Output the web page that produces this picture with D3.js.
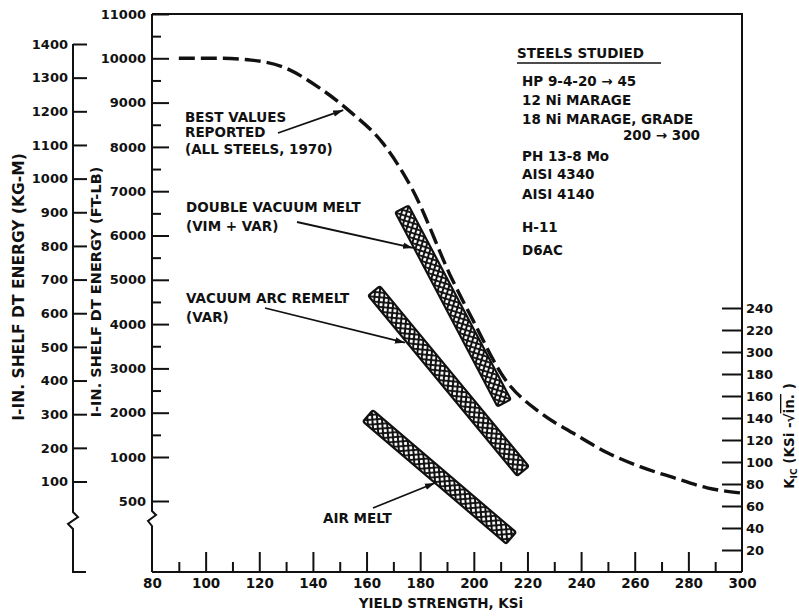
<!DOCTYPE html>
<html>
<head>
<meta charset="utf-8">
<script src="https://cdn.jsdelivr.net/npm/d3@7"></script>
<style>
  body { margin: 0; background: #fff; }
  svg { display: block; }
  text { font-family: "DejaVu Sans", sans-serif; font-weight: bold; fill: #111; }
</style>
</head>
<body>
<svg id="chart" width="799" height="616"></svg>
<script>
// ---- data -------------------------------------------------------------
const ksiTicks = [80, 100, 120, 140, 160, 180, 200, 220, 240, 260, 280, 300];
const ksiMinorTicks = [90, 110, 130, 150, 170, 190, 210, 230, 250, 270, 290];
const ftLbTicks = [500, 1000, 2000, 3000, 4000, 5000, 6000, 7000, 8000, 9000, 10000, 11000];
const ftLbMinorTicks = [1500, 2500, 3500, 4500, 5500, 6500, 7500, 8500, 9500, 10500];
const kgmTicks = [100, 200, 300, 400, 500, 600, 700, 800, 900, 1000, 1100, 1200, 1300, 1400];
const kicTicks = [20, 40, 60, 80, 100, 120, 140, 160, 180, 200, 220, 240];
const kicTickLabels = ["20", "40", "60", "80", "100", "120", "140", "160", "180", "300", "220", "240"];

// best values reported (all steels, 1970): yield strength (ksi) vs DT energy (ft-lb)
const bestKsi  = [90, 105, 117, 129, 142, 154, 166, 177, 192, 200, 211, 225, 237, 250, 262, 274, 287, 300];
const bestFtLb = [10000, 10000, 9960, 9800, 9350, 8790, 8090, 7050, 5000, 4050, 2810, 1990, 1540, 1090, 890, 770, 650, 590];

// melting practice bands: end points (ksi, ft-lb)
const bandNames     = ["DOUBLE VACUUM MELT", "VACUUM ARC REMELT", "AIR MELT"];
const bandStartKsi  = [173.2, 162.8, 160.5];
const bandStartFtLb = [6600, 4750, 1930];
const bandEndKsi    = [211.3, 218.3, 213.9];
const bandEndFtLb   = [2220, 840, 80];

// annotation arrow tips (ksi, ft-lb)
const noteTipKsi  = [151.3, 177.3, 174.3, 185.5];
const noteTipFtLb = [8830, 5720, 3580, 705];

const steelsStudied = ["HP 9-4-20 \u2192 45", "12 Ni MARAGE", "18 Ni MARAGE, GRADE", "200 \u2192 300",
                       "PH 13-8 Mo", "AISI 4340", "AISI 4140", "H-11", "D6AC"];

// ---- scales -----------------------------------------------------------
const svg = d3.select("#chart");
const x    = d3.scaleLinear([80, 300], [152, 742]);
const yFt  = d3.scaleLinear([500, 1000, 11000], [501, 457, 14]);
const yKgm = d3.scaleLinear([100, 1400], [481.5, 44]);
const yKic = d3.scaleLinear([0, 240], [572, 308]);
const frameBottom = 572, frameTop = 14, kgmX = 73;

const ink = "#111";

// ---- defs: arrowhead and crosshatch pattern ---------------------------
const defs = svg.append("defs");
defs.append("marker")
  .attr("id", "head").attr("viewBox", "0 0 10 8")
  .attr("refX", 10).attr("refY", 4)
  .attr("markerWidth", 10).attr("markerHeight", 8)
  .attr("markerUnits", "userSpaceOnUse")
  .attr("orient", "auto")
  .append("path").attr("d", "M0,0.8 L10,4 L0,7.2 Z").attr("fill", ink);

const cell = 4.8;
const hatch = defs.append("pattern")
  .attr("id", "hatch").attr("patternUnits", "userSpaceOnUse")
  .attr("width", cell).attr("height", cell)
  .attr("patternTransform", "rotate(45)");
hatch.append("rect").attr("width", cell).attr("height", cell).attr("fill", ink);
hatch.append("rect").attr("x", 0.9).attr("y", 0.9).attr("width", cell - 1.8).attr("height", cell - 1.8)
  .attr("rx", 0.7).attr("fill", "#fff");

// ---- axis lines with breaks ------------------------------------------
const axisStroke = g => g.attr("fill", "none").attr("stroke", ink).attr("stroke-width", 2);

// frame: top and right edge
svg.append("path").call(axisStroke)
  .attr("d", `M${x(80)},${frameTop} H${x(300)} V${frameBottom}`);
// yield strength axis
svg.append("path").call(axisStroke)
  .attr("d", `M${x(80)},${frameBottom} H${x(300)}`);
// ft-lb axis with break
svg.append("path").call(axisStroke)
  .attr("d", `M${x(80)},${frameTop} V511 L${x(80) + 4},515 L${x(80) - 4},521 L${x(80)},526 V${frameBottom}`);
// kg-m axis with break and foot
svg.append("path").call(axisStroke)
  .attr("d", `M${kgmX},${yKgm(1400)} V512 L${kgmX + 5},517 L${kgmX - 5},524 L${kgmX},529 V${frameBottom} H${kgmX + 13}`);

function styleAxis(g, size) {
  g.select(".domain").remove();
  g.selectAll(".tick line").attr("stroke", ink).attr("stroke-width", 2);
  g.selectAll(".tick text").attr("font-size", size).attr("fill", ink)
    .attr("font-family", "DejaVu Sans").attr("font-weight", "bold");
}

// ft-lb axis
svg.append("g").attr("transform", `translate(${x(80)},0)`)
  .call(d3.axisLeft(yFt).tickValues(ftLbTicks).tickSize(-17).tickPadding(6).tickFormat(d3.format("d")))
  .call(g => styleAxis(g, 13));
svg.append("g").attr("transform", `translate(${x(80)},0)`)
  .call(d3.axisLeft(yFt).tickValues(ftLbMinorTicks).tickSize(-9).tickFormat(""))
  .call(g => styleAxis(g, 13));

// kg-m axis
svg.append("g").attr("transform", `translate(${kgmX},0)`)
  .call(d3.axisLeft(yKgm).tickValues(kgmTicks).tickSize(-14).tickPadding(5).tickFormat(d3.format("d")))
  .call(g => styleAxis(g, 13));

// K_IC axis
svg.append("g").attr("transform", `translate(${x(300)},0)`)
  .call(d3.axisRight(yKic).tickValues(kicTicks).tickSize(-20).tickPadding(4)
        .tickFormat((d, i) => kicTickLabels[i]))
  .call(g => styleAxis(g, 13));

// yield strength axis
svg.append("g").attr("transform", `translate(0,${frameBottom})`)
  .call(d3.axisBottom(x).tickValues(ksiTicks).tickSize(-20).tickPadding(6).tickFormat(d3.format("d")))
  .call(g => styleAxis(g, 13.5))
  .call(g => g.selectAll(".tick").filter(d => d === 80 || d === 300).select("line").remove());
svg.append("g").attr("transform", `translate(0,${frameBottom})`)
  .call(d3.axisBottom(x).tickValues(ksiMinorTicks).tickSize(-10).tickFormat(""))
  .call(g => styleAxis(g, 13));

// ---- axis titles ---------------------------------------------------------
svg.append("text")
  .attr("transform", "translate(19,287) rotate(-90)")
  .attr("text-anchor", "middle").attr("dominant-baseline", "central")
  .attr("font-size", 15.5)
  .text("I-IN. SHELF DT ENERGY (KG-M)");
svg.append("text")
  .attr("transform", "translate(96,292) rotate(-90)")
  .attr("text-anchor", "middle").attr("dominant-baseline", "central")
  .attr("font-size", 14.5)
  .text("I-IN. SHELF DT ENERGY (FT-LB)");
svg.append("text")
  .attr("x", 441).attr("y", 608)
  .attr("text-anchor", "middle").attr("font-size", 13.5)
  .text("YIELD STRENGTH, KSi");

const kic = svg.append("text")
  .attr("transform", "translate(794,436) rotate(-90)")
  .attr("text-anchor", "middle").attr("font-size", 13.5);
kic.append("tspan").text("K");
kic.append("tspan").attr("font-size", 9).attr("dy", 3).text("IC");
kic.append("tspan").attr("dy", -3).text(" (KSi -\u221A");
kic.append("tspan").attr("text-decoration", "overline").text("in.");
kic.append("tspan").text(" )");

// ---- best values curve -----------------------------------------------------
const bestLine = d3.line().x(d => x(d[0])).y(d => yFt(d[1])).curve(d3.curveMonotoneX);
svg.append("path")
  .datum(d3.zip(bestKsi, bestFtLb))
  .attr("d", bestLine)
  .attr("fill", "none").attr("stroke", ink)
  .attr("stroke-width", 3.4).attr("stroke-dasharray", "16,6");

// ---- melting practice bands ------------------------------------------
const bandWidth = 15;
bandNames.forEach((name, i) => {
  const x1 = x(bandStartKsi[i]), y1 = yFt(bandStartFtLb[i]);
  const x2 = x(bandEndKsi[i]),   y2 = yFt(bandEndFtLb[i]);
  const len = Math.hypot(x2 - x1, y2 - y1);
  const ang = Math.atan2(y2 - y1, x2 - x1) * 180 / Math.PI;
  svg.append("g")
    .attr("transform", `translate(${(x1 + x2) / 2},${(y1 + y2) / 2}) rotate(${ang})`)
    .append("rect")
    .attr("x", -len / 2).attr("y", -bandWidth / 2)
    .attr("width", len).attr("height", bandWidth)
    .attr("rx", 2)
    .attr("fill", "url(#hatch)")
    .attr("stroke", ink).attr("stroke-width", 2.2);
});

// ---- annotations -------------------------------------------------------
const notes = [
  { lines: ["BEST VALUES", "REPORTED", "(ALL STEELS, 1970)"], tx: 185, ty: [122, 137, 154], from: [278, 133] },
  { lines: ["DOUBLE VACUUM MELT", "(VIM + VAR)"], tx: 186, ty: [212, 231], from: [297, 222] },
  { lines: ["VACUUM ARC REMELT", "(VAR)"], tx: 186, ty: [303, 322], from: [265, 308] },
  { lines: ["AIR MELT"], tx: 323, ty: [523], from: [373, 508] }
];
notes.forEach((n, i) => {
  n.lines.forEach((t, j) => {
    svg.append("text").attr("x", n.tx).attr("y", n.ty[j])
      .attr("font-size", 13.5).text(t);
  });
  svg.append("line")
    .attr("x1", n.from[0]).attr("y1", n.from[1])
    .attr("x2", x(noteTipKsi[i])).attr("y2", yFt(noteTipFtLb[i]))
    .attr("stroke", ink).attr("stroke-width", 1.8)
    .attr("marker-end", "url(#head)");
});

// ---- steels studied list ---------------------------------------------
svg.append("text").attr("x", 517).attr("y", 58).attr("font-size", 13.5).text("STEELS STUDIED");
svg.append("line").attr("x1", 517).attr("x2", 661).attr("y1", 63).attr("y2", 63)
  .attr("stroke", ink).attr("stroke-width", 1.6);
const listY = [86, 105, 124, 140, 161, 179, 199, 232, 255];
steelsStudied.forEach((s, i) => {
  const right = i === 3;
  svg.append("text")
    .attr("x", right ? 700 : 522).attr("y", listY[i])
    .attr("text-anchor", right ? "end" : "start")
    .attr("font-size", 13.5).text(s);
});
</script>
</body>
</html>
